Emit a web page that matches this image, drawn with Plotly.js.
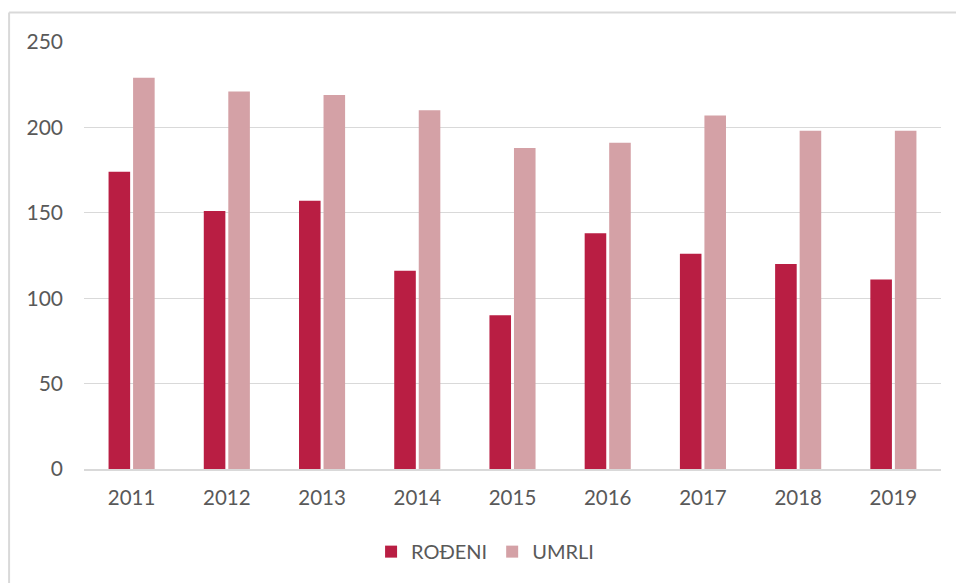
<!DOCTYPE html>
<html>
<head>
<meta charset="utf-8">
<script src="https://cdn.plot.ly/plotly-3.0.1.min.js"></script>
<style>
  html, body { margin: 0; padding: 0; background: #fff; }
  #chart { width: 956px; height: 583px; }
</style>
</head>
<body>
<div id="chart"></div>
<script>
const years = ['2011', '2012', '2013', '2014', '2015', '2016', '2017', '2018', '2019'];
const rodjeni = [174, 151, 157, 116, 90, 138, 126, 120, 111];
const umrli = [229, 221, 219, 210, 188, 191, 207, 198, 198];
const yTicks = [0, 50, 100, 150, 200, 250];

const textColor = '#595959';
const gridColor = '#D9D9D9';
const fontFamily = 'Lato, "Open Sans", sans-serif';

const traces = [
  {
    type: 'bar', name: 'ROĐENI', x: years, y: rodjeni,
    marker: { color: '#B91E43' }, hoverinfo: 'x+y+name'
  },
  {
    type: 'bar', name: 'UMRLI', x: years, y: umrli,
    marker: { color: '#D4A1A6' }, hoverinfo: 'x+y+name'
  }
];

const layout = {
  width: 956, height: 583,
  margin: { l: 84.4, r: 14.7, t: 42, b: 113.7, pad: 0 },
  paper_bgcolor: '#ffffff', plot_bgcolor: '#ffffff',
  font: { family: fontFamily, color: textColor, size: 20 },
  barmode: 'group', bargap: 0.485, bargroupgap: 0.12,
  showlegend: true,
  legend: {
    orientation: 'h', x: 0.468, xanchor: 'center', y: -0.1935, yanchor: 'middle',
    font: { family: fontFamily, size: 20, color: textColor },
    traceorder: 'normal', itemwidth: 30
  },
  xaxis: {
    type: 'category', showgrid: false, zeroline: false,
    showline: true, linecolor: gridColor, linewidth: 1.5,
    ticks: '', tickfont: { family: fontFamily, size: 20.5, color: textColor },
    ticklabelstandoff: 10
  },
  yaxis: {
    range: [0, 250], tickvals: yTicks, ticktext: yTicks.map(String),
    showgrid: true, gridcolor: gridColor, gridwidth: 1.3,
    zeroline: false, showline: false, ticks: '',
    tickfont: { family: fontFamily, size: 21, color: textColor },
    ticklabelstandoff: 20
  },
  shapes: [
    { type: 'line', xref: 'paper', yref: 'paper', x0: -0.0874, x1: 1.02, y0: 1.069, y1: 1.069,
      line: { color: gridColor, width: 2 } },
    { type: 'line', xref: 'paper', yref: 'paper', x0: -0.0874, x1: -0.0874, y0: 1.069, y1: -0.3,
      line: { color: gridColor, width: 2 } }
  ]
};

Plotly.newPlot('chart', traces, layout, { displayModeBar: false, staticPlot: true });
</script>
</body>
</html>
